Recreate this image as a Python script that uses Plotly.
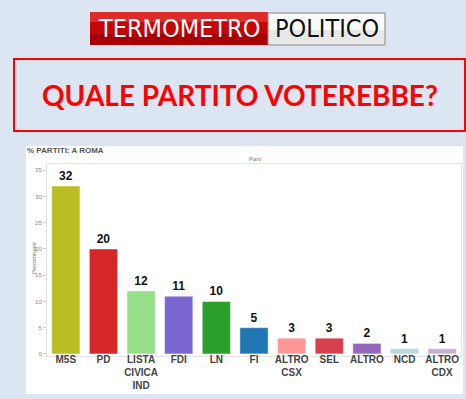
import plotly.graph_objects as go

categories = ["M5S", "PD", "LISTA<br>CIVICA<br>IND", "FDI", "LN", "FI",
              "ALTRO<br>CSX", "SEL", "ALTRO", "NCD", "ALTRO<br>CDX"]
values = [32, 20, 12, 11, 10, 5, 3, 3, 2, 1, 1]
colors = ["#bcbd22", "#d62728", "#98df8a", "#7b66cf", "#2ca02c", "#1f77b4",
          "#ff9896", "#d6404e", "#9467bd", "#b5d9dd", "#c5b0d5"]
y_ticks = [0, 5, 10, 15, 20, 25, 30, 35]

W, H = 466, 399
def py(p):  # pixel y -> paper y
    return 1 - p / H
def px(p):
    return p / W

fig = go.Figure()
fig.add_trace(go.Bar(
    x=categories, y=values,
    marker=dict(color=colors, line=dict(color="rgba(255,255,255,0.45)", width=1)),
    text=[f"<b>{v}</b>" for v in values],
    textposition="outside",
    textfont=dict(family="Liberation Sans", size=12, color="#111"),
    cliponaxis=False,
    width=0.75,
))

shapes = [
    dict(type="rect", xref="paper", yref="paper", x0=px(26), x1=px(463), y0=py(394), y1=py(146),
         fillcolor="white", line=dict(width=0), layer="below"),
    dict(type="rect", xref="paper", yref="paper", x0=px(14), x1=px(465), y0=py(131), y1=py(59),
         fillcolor="rgba(0,0,0,0)", line=dict(color="#ff0000", width=2)),
    dict(type="rect", xref="paper", yref="paper", x0=px(90), x1=px(268), y0=py(45), y1=py(12),
         fillcolor="#a80000", line=dict(width=0)),
    dict(type="rect", xref="paper", yref="paper", x0=px(90), x1=px(268), y0=py(34), y1=py(12),
         fillcolor="#c40606", line=dict(width=0)),
    dict(type="rect", xref="paper", yref="paper", x0=px(90), x1=px(268), y0=py(22), y1=py(12),
         fillcolor="#dd2a2a", line=dict(width=0)),
    dict(type="rect", xref="paper", yref="paper", x0=px(268), x1=px(385), y0=py(45), y1=py(13),
         fillcolor="#e8e8e8", line=dict(color="#8a8a8a", width=1)),
    dict(type="rect", xref="paper", yref="paper", x0=px(269), x1=px(384), y0=py(30), y1=py(14),
         fillcolor="#fafafa", line=dict(width=0)),
]

def ann(text, x, y, font, xanchor="center", **kw):
    return dict(text=text, x=px(x), y=py(y), xref="paper", yref="paper",
                xanchor=xanchor, yanchor="middle", showarrow=False, font=font, **kw)

logo_font = "DejaVu Sans Condensed, Liberation Sans Narrow, Roboto"
annotations = [
    ann("TERMOMETRO", 179, 29, dict(family=logo_font, size=25, color="white")),
    ann("POLITICO", 327, 29, dict(family=logo_font, size=25, color="#111")),
    ann("<b>QUALE PARTITO VOTEREBBE?</b>", 240, 95, dict(family="Lato", size=28, color="#ff0000")),
    ann("<b>% PARTITI: A ROMA</b>", 25, 150, dict(family="Liberation Sans", size=8, color="#555"), xanchor="left"),
    ann("Parti", 255, 159, dict(family="Liberation Sans", size=6, color="#777")),
    ann("Percentuale", 34, 258, dict(family="Liberation Sans", size=6, color="#777"), textangle=-90),
]

fig.update_layout(
    width=W, height=H, autosize=False,
    margin=dict(l=0, r=0, t=0, b=0),
    paper_bgcolor="#dce6f2", plot_bgcolor="white",
    shapes=shapes, annotations=annotations,
    showlegend=False, bargap=0.25,
    xaxis=dict(domain=[px(47), px(461)], showgrid=False, showline=True, linecolor="#e3e3e3",
               mirror=True, ticks="", tickangle=0, ticklabelstandoff=-6,
               tickfont=dict(family="Liberation Sans", size=10, color="#444", weight="bold")),
    yaxis=dict(domain=[py(356), py(164)], range=[-0.4, 36.2], tickvals=y_ticks,
               showgrid=False, zeroline=False, showline=True, linecolor="#e3e3e3", mirror=True,
               ticks="outside", ticklen=3, tickcolor="#ccc",
               tickfont=dict(family="Liberation Sans", size=6, color="#888")),
)

fig.write_html("out.html", config={"displayModeBar": False},
               post_script="document.body.style.margin='0';document.body.style.overflow='hidden';")
